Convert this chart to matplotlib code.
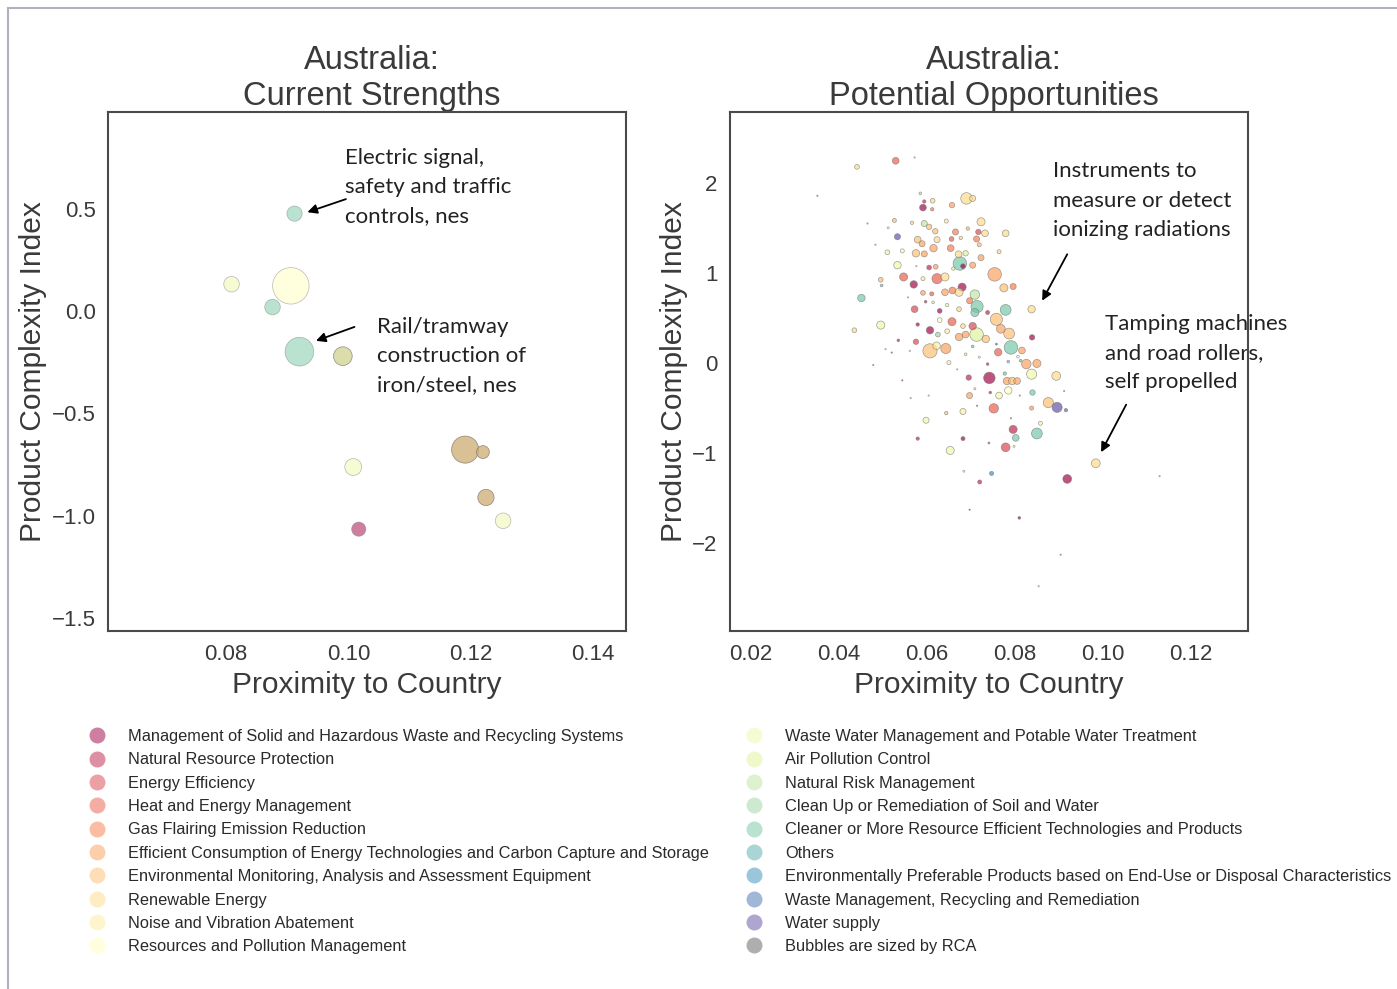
import matplotlib
matplotlib.use("Agg")
import matplotlib.pyplot as plt
from matplotlib.lines import Line2D
import numpy as np

# ---------------- data ----------------
categories = [
    "Management of Solid and Hazardous Waste and Recycling Systems",
    "Natural Resource Protection",
    "Energy Efficiency",
    "Heat and Energy Management",
    "Gas Flairing Emission Reduction",
    "Efficient Consumption of Energy Technologies and Carbon Capture and Storage",
    "Environmental Monitoring, Analysis and Assessment Equipment",
    "Renewable Energy",
    "Noise and Vibration Abatement",
    "Resources and Pollution Management",
    "Waste Water Management and Potable Water Treatment",
    "Air Pollution Control",
    "Natural Risk Management",
    "Clean Up or Remediation of Soil and Water",
    "Cleaner or More Resource Efficient Technologies and Products",
    "Others",
    "Environmentally Preferable Products based on End-Use or Disposal Characteristics",
    "Waste Management, Recycling and Remediation",
    "Water supply",
]
size_note = "Bubbles are sized by RCA"

# Left panel: current strengths (products listed in two categories appear twice)
left_x = [0.0912, 0.0809, 0.0906, 0.0876, 0.0920, 0.0991, 0.1191, 0.1220, 0.1008, 0.1225, 0.1253, 0.1017,
          0.0991, 0.1191, 0.1220, 0.1225]
left_y = [0.477, 0.132, 0.124, 0.020, -0.198, -0.220, -0.677, -0.689, -0.762, -0.911, -1.025, -1.066,
          -0.220, -0.677, -0.689, -0.911]
left_rca = [20.3, 21.2, 116.6, 21.2, 72.3, 30.3, 64.0, 14.4, 25.0, 23.0, 21.2, 17.6,
            30.3, 64.0, 14.4, 23.0]
left_cat = [14, 10, 9, 14, 14, 14, 14, 14, 10, 14, 10, 0,
            7, 5, 5, 5]

# Right panel: potential opportunities
right_x = [
    0.0441, 0.0529, 0.0572, 0.0351, 0.0585, 0.0594, 0.0613, 0.0657, 0.0690, 0.0704,
    0.0591, 0.0612, 0.0526, 0.0566, 0.0594, 0.0605, 0.0644, 0.0723, 0.0465, 0.0512,
    0.0619, 0.0665, 0.0693, 0.0717, 0.0732, 0.0779, 0.0533, 0.0579, 0.0589, 0.0623,
    0.0656, 0.0677, 0.0713, 0.0719, 0.0483, 0.0510, 0.0544, 0.0575, 0.0594, 0.0615,
    0.0654, 0.0672, 0.0688, 0.0675, 0.0723, 0.0764, 0.0533, 0.0576, 0.0605, 0.0620,
    0.0660, 0.0682, 0.0704, 0.0754, 0.0495, 0.0497, 0.0547, 0.0570, 0.0591, 0.0623,
    0.0641, 0.0680, 0.0709, 0.0775, 0.0796, 0.0591, 0.0611, 0.0641, 0.0658, 0.0673,
    0.0697, 0.0714, 0.0451, 0.0557, 0.0597, 0.0614, 0.0646, 0.0572, 0.0629, 0.0673,
    0.0709, 0.0738, 0.0779, 0.0838, 0.0758, 0.0629, 0.0657, 0.0682, 0.0704, 0.0579,
    0.0495, 0.0435, 0.0607, 0.0625, 0.0646, 0.0673, 0.0688, 0.0713, 0.0734, 0.0768,
    0.0787, 0.0839, 0.0535, 0.0575, 0.0622, 0.0607, 0.0643, 0.0704, 0.0758, 0.0791,
    0.0762, 0.0816, 0.0520, 0.0506, 0.0561, 0.0650, 0.0688, 0.0719, 0.0785, 0.0807,
    0.0826, 0.0850, 0.0838, 0.0894, 0.0813, 0.0738, 0.0742, 0.0695, 0.0777, 0.0782,
    0.0794, 0.0805, 0.0478, 0.0544, 0.0669, 0.0709, 0.0785, 0.0764, 0.0697, 0.0744,
    0.0604, 0.0563, 0.0840, 0.0811, 0.0912, 0.0876, 0.0896, 0.0916, 0.0838, 0.0752,
    0.0714, 0.0682, 0.0644, 0.0791, 0.0598, 0.0858, 0.0796, 0.0802, 0.0850, 0.0682,
    0.0579, 0.0741, 0.0779, 0.0798, 0.0653, 0.0984, 0.0684, 0.0747, 0.0720, 0.0919,
    0.1129, 0.0697, 0.0810, 0.0904, 0.0854,
]
right_y = [
    2.179, 2.247, 2.284, 1.859, 1.885, 1.795, 1.803, 1.754, 1.829, 1.829,
    1.727, 1.708, 1.584, 1.558, 1.550, 1.513, 1.577, 1.569, 1.550, 1.502,
    1.464, 1.456, 1.494, 1.456, 1.441, 1.441, 1.403, 1.370, 1.325, 1.370,
    1.378, 1.389, 1.378, 1.314, 1.314, 1.230, 1.246, 1.219, 1.212, 1.276,
    1.276, 1.208, 1.219, 1.106, 1.170, 1.237, 1.087, 1.076, 1.061, 1.069,
    1.049, 1.076, 1.087, 0.985, 0.925, 0.861, 0.956, 0.873, 0.937, 0.937,
    0.956, 0.843, 0.760, 0.835, 0.850, 0.779, 0.768, 0.786, 0.806, 0.786,
    0.692, 0.628, 0.722, 0.729, 0.681, 0.673, 0.643, 0.598, 0.579, 0.598,
    0.561, 0.561, 0.590, 0.598, 0.485, 0.477, 0.459, 0.410, 0.410, 0.428,
    0.421, 0.364, 0.364, 0.316, 0.353, 0.289, 0.316, 0.316, 0.267, 0.380,
    0.327, 0.285, 0.252, 0.236, 0.192, 0.135, 0.161, 0.184, 0.210, 0.173,
    0.120, 0.139, 0.116, 0.154, 0.135, 0.004, 0.097, 0.064, 0.015, 0.071,
    -0.012, -0.005, -0.124, -0.144, 0.026, -0.012, -0.166, -0.162, -0.117, -0.200,
    -0.200, -0.200, -0.023, -0.193, -0.071, -0.286, -0.305, -0.362, -0.362, -0.328,
    -0.362, -0.389, -0.328, -0.362, -0.312, -0.440, -0.493, -0.524, -0.501, -0.504,
    -0.475, -0.539, -0.557, -0.614, -0.636, -0.670, -0.738, -0.832, -0.783, -0.840,
    -0.840, -0.889, -0.937, -0.926, -0.972, -1.114, -1.202, -1.227, -1.322, -1.288,
    -1.258, -1.630, -1.721, -2.130, -2.481,
]
right_rca = [
    1.96, 4.0, 0.16, 0.16, 0.64, 1.0, 1.96, 2.56, 11.56, 3.24,
    4.0, 1.0, 1.44, 1.0, 3.24, 2.56, 1.44, 5.76, 0.16, 0.36,
    2.56, 3.24, 1.0, 2.56, 4.0, 4.0, 3.24, 4.0, 3.24, 3.24,
    1.96, 1.0, 3.24, 1.44, 0.16, 1.96, 1.44, 4.84, 3.24, 4.84,
    4.0, 4.0, 2.56, 16.0, 3.24, 1.44, 4.84, 0.16, 1.96, 1.96,
    1.0, 1.96, 3.24, 16.0, 1.96, 0.64, 5.76, 4.84, 1.44, 9.0,
    5.76, 5.76, 7.84, 5.76, 3.24, 1.96, 1.44, 4.0, 4.0, 5.76,
    3.24, 12.96, 4.84, 0.16, 0.64, 0.64, 1.0, 4.0, 1.96, 1.96,
    5.76, 1.44, 10.24, 4.84, 12.96, 1.96, 5.76, 1.96, 4.84, 1.0,
    5.76, 1.96, 4.84, 1.96, 1.96, 4.84, 4.0, 16.0, 4.84, 6.76,
    10.24, 2.56, 0.64, 2.56, 4.84, 17.64, 9.0, 0.64, 0.36, 16.0,
    4.84, 4.0, 0.16, 0.16, 0.16, 1.44, 0.64, 0.36, 0.64, 0.64,
    7.84, 5.76, 9.0, 6.76, 0.64, 0.64, 11.56, 2.56, 1.0, 4.84,
    4.84, 4.0, 0.16, 0.16, 0.16, 0.36, 4.84, 4.0, 3.24, 0.64,
    0.16, 0.16, 2.56, 0.16, 0.16, 9.0, 9.0, 1.0, 1.44, 7.84,
    0.16, 3.24, 1.0, 0.16, 3.24, 1.44, 5.76, 4.0, 10.24, 1.44,
    1.0, 0.36, 6.76, 0.36, 5.76, 6.76, 0.36, 1.44, 1.44, 6.76,
    0.16, 0.16, 0.64, 0.16, 0.16,
]
right_cat = [
    7, 3, 8, 15, 12, 1, 7, 5, 7, 7,
    0, 4, 6, 7, 12, 6, 8, 7, 14, 9,
    6, 4, 6, 2, 7, 7, 18, 6, 5, 7,
    3, 7, 4, 6, 12, 10, 9, 6, 5, 5,
    4, 7, 11, 14, 5, 7, 10, 9, 1, 5,
    8, 0, 5, 5, 6, 14, 3, 0, 8, 3,
    7, 0, 12, 6, 4, 5, 3, 5, 4, 7,
    4, 14, 14, 9, 1, 8, 10, 2, 0, 7,
    14, 1, 14, 7, 6, 9, 3, 7, 2, 0,
    10, 7, 0, 13, 8, 5, 5, 11, 6, 5,
    6, 0, 1, 2, 8, 6, 5, 14, 17, 14,
    3, 5, 1, 8, 9, 10, 8, 9, 14, 9,
    5, 5, 10, 7, 14, 1, 0, 1, 14, 5,
    6, 5, 15, 1, 9, 8, 9, 10, 5, 1,
    8, 9, 14, 14, 14, 6, 18, 17, 5, 3,
    1, 8, 6, 2, 10, 10, 1, 14, 14, 0,
    1, 2, 2, 9, 10, 7, 9, 16, 1, 0,
    12, 1, 0, 14, 8,
]

left_xticks = [0.08, 0.10, 0.12, 0.14]
left_yticks = [-1.5, -1.0, -0.5, 0.0, 0.5]
right_xticks = [0.02, 0.04, 0.06, 0.08, 0.10, 0.12]
right_yticks = [-2, -1, 0, 1, 2]

# ---------------- style ----------------
SIZE_SCALE = 5.92
cmap = plt.get_cmap("Spectral")
ncat = len(categories)
cat_colors = [cmap(i / (ncat - 1)) for i in range(ncat)]
TXT = "#3a3a3a"
SANS = ["Liberation Sans", "DejaVu Sans"]
ANNOT = ["Lato", "DejaVu Sans"]

fig = plt.figure(figsize=(13.97, 9.89), dpi=100)
W, H = 1397, 989

def axes_px(x0, y0, x1, y1):
    return fig.add_axes([x0 / W, 1 - y1 / H, (x1 - x0) / W, (y1 - y0) / H])

axL = axes_px(108, 112, 626, 631)
axR = axes_px(730, 112, 1248, 631)

def draw(ax, xs, ys, rca, cats, alpha):
    cols = [cat_colors[c] for c in cats]
    order = np.argsort(-np.asarray(rca), kind="stable")
    ax.scatter(np.asarray(xs)[order], np.asarray(ys)[order],
               s=np.asarray(rca)[order] * SIZE_SCALE,
               c=[cols[i] for i in order], alpha=alpha,
               edgecolors=(0.45, 0.45, 0.45, 0.5), linewidths=0.5, zorder=3)

draw(axL, left_x, left_y, left_rca, left_cat, 0.5)
draw(axR, right_x, right_y, right_rca, right_cat, 0.68)

axL.set_xlim(0.0607, 0.1454)
axL.set_ylim(-1.564, 0.974)
axR.set_xlim(0.01523, 0.1330)
axR.set_ylim(-2.978, 2.789)

for ax, xt, yt, xf, yf in [
    (axL, left_xticks, left_yticks, "{:.2f}", "{:.1f}"),
    (axR, right_xticks, right_yticks, "{:.2f}", "{:d}"),
]:
    ax.set_xticks(xt)
    ax.set_xticklabels([xf.format(v) for v in xt])
    ax.set_yticks(yt)
    ax.set_yticklabels([yf.format(v).replace("-", "\u2212") for v in yt])
    ax.tick_params(length=0, labelsize=16, labelcolor=TXT, pad=9)
    for lab in ax.get_xticklabels() + ax.get_yticklabels():
        lab.set_family(SANS)
    for sp in ax.spines.values():
        sp.set_color("#4a4a4a")
        sp.set_linewidth(1.5)
        sp.set_zorder(5)
    ax.set_xlabel("Proximity to Country", fontsize=21.5, color=TXT, family=SANS, labelpad=5)
    ax.set_ylabel("Product Complexity Index", fontsize=21.5, color=TXT, family=SANS, labelpad=3)

axL.set_title("Australia:\nCurrent Strengths", fontsize=23.5, color=TXT, family=SANS,
              pad=3, linespacing=1.2, x=0.509)
axR.set_title("Australia:\nPotential Opportunities", fontsize=23.5, color=TXT, family=SANS,
              pad=3, linespacing=1.2, x=0.509)

arrow = dict(arrowstyle="-|>", color="black", lw=1.3, mutation_scale=14,
             shrinkA=0, shrinkB=0)

def note(ax, text, tx, ty, tail, tip):
    ax.text(tx, ty, text, fontsize=16, family=ANNOT, color="#222222",
            va="center", ha="left", linespacing=1.57, zorder=2, clip_on=False)
    ax.annotate("", xy=tip, xytext=tail, arrowprops=arrow, zorder=4)

note(axL, "Electric signal,\nsafety and traffic\ncontrols, nes", 0.0995, 0.606,
     (0.0996, 0.548), (0.0933, 0.484))
note(axL, "Rail/tramway\nconstruction of\niron/steel, nes", 0.1047, -0.218,
     (0.1010, -0.077), (0.0947, -0.145))
note(axR, "Instruments to\nmeasure or detect\nionizing radiations", 0.0886, 1.805,
     (0.0919, 1.208), (0.0862, 0.692))
note(axR, "Tamping machines\nand road rollers,\nself propelled", 0.1004, 0.110,
     (0.1053, -0.463), (0.0996, -0.991))

# legend
handles = [Line2D([], [], ls="none", marker="o", markersize=11.5,
                  markerfacecolor=cat_colors[i], markeredgecolor="none", alpha=0.5)
           for i in range(ncat)]
handles.append(Line2D([], [], ls="none", marker="o", markersize=11.5,
                      markerfacecolor="#8c8c8c", markeredgecolor="none", alpha=0.7))
labels = categories + [size_note]

common = dict(frameon=False, loc="upper left", borderpad=0, borderaxespad=0,
              handlelength=1.0, handletextpad=1.4, labelspacing=0.51,
              prop={"family": SANS, "size": 11.8}, labelcolor="#2a2a2a")
leg1 = fig.legend(handles[:10], labels[:10], bbox_to_anchor=(88.8 / W, 1 - 729 / H), **common)
leg2 = fig.legend(handles[10:], labels[10:], bbox_to_anchor=(746.0 / W, 1 - 729 / H), **common)

# outer frame lines (top and left)
fig.add_artist(Line2D([8 / W, 1], [1 - 8 / H, 1 - 8 / H], color="#b0b0c0", lw=1.5))
fig.add_artist(Line2D([8 / W, 8 / W], [0, 1 - 8 / H], color="#b0b0c0", lw=1.5))

fig.savefig("out.png", dpi=100)
